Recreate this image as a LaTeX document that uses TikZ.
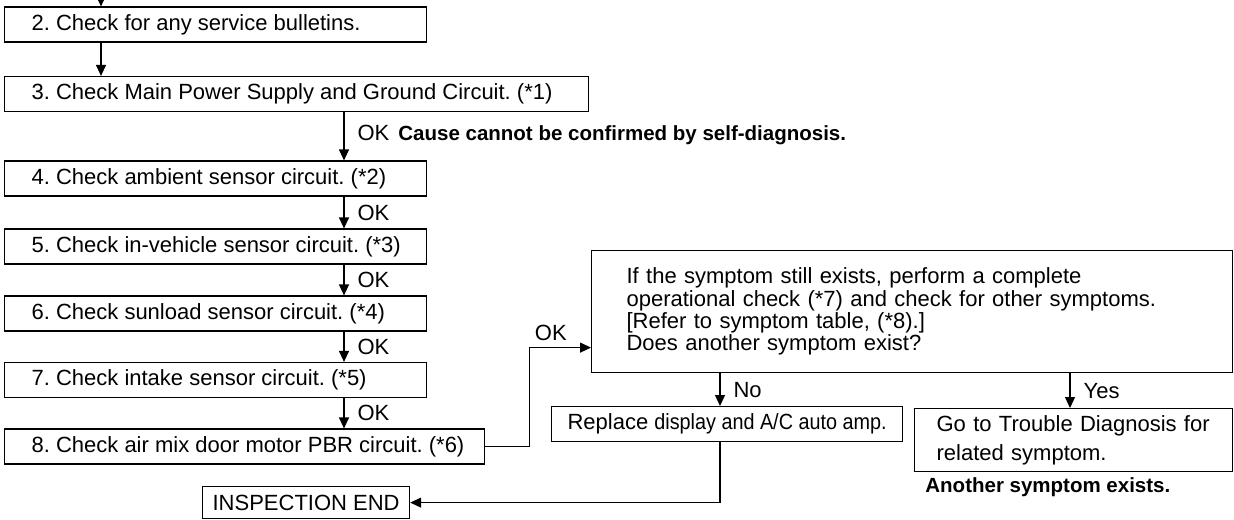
\documentclass[tikz,border=0pt]{standalone}
\usepackage{fontspec}
\setmainfont{Liberation Sans}
\newfontfamily\narrowsf{Liberation Sans}[FakeStretch=0.9]
\usetikzlibrary{arrows.meta}

\begin{document}
\frenchspacing
\begin{tikzpicture}[x=0.5pt,y=-0.5pt,
  box/.style={draw,line width=0.6pt,inner ysep=2pt,font=\fontsize{11}{11.2}\selectfont},
  chk/.style={box,anchor=west,minimum height=17.5pt,inner xsep=13.5pt,
    execute at begin node={\hbox to #1\bgroup},execute at end node={\hss\egroup}},
  lbl/.style={right,inner sep=0pt,xshift=6.5pt,font=\fontsize{11}{11.2}\selectfont},
  note/.style={anchor=west,inner sep=0pt,font=\bfseries\fontsize{10.25}{11.2}\selectfont},
  arr/.style={line width=0.6pt,-{Triangle[length=5.5pt,width=5pt]}}]
\useasboundingbox (0,0) rectangle (1234,519);
\coordinate (colA) at (101,0);
\coordinate (colB) at (344,0);
\coordinate (colC) at (720,0);
\coordinate (colD) at (1070,0);
\node[chk=184pt] (b2) at (4,24.5) {2. Check for any service bulletins.};
\node[chk=265pt] (b3) at (4,94) {3. Check Main Power Supply and Ground Circuit. (*1)};
\node[chk=184pt] (b4) at (4,178.5) {4. Check ambient sensor circuit. (*2)};
\node[chk=184pt] (b5) at (4,246.5) {5. Check in-vehicle sensor circuit. (*3)};
\node[chk=184pt] (b6) at (4,313.5) {6. Check sunload sensor circuit. (*4)};
\node[chk=184pt] (b7) at (4,380) {7. Check intake sensor circuit. (*5)};
\node[chk=213pt] (b8) at (4,446.5) {8. Check air mix door motor PBR circuit. (*6)};
\node[box,anchor=north west,align=left,minimum height=61pt,inner xsep=17.5pt,text width=285.5pt] (big) at (591,250)
  {If the symptom still exists, perform a complete\\
   operational check (*7) and check for other symptoms.\\
   {[}Refer to symptom table, (*8).{]}\\
   Does another symptom exist?};
\node[box,anchor=north west,minimum width=175.5pt,minimum height=17.5pt] (rep) at (551,406)
  {Replace {\narrowsf display and A/C auto amp.}};
\node[box,anchor=north west,align=left,minimum height=31.5pt,inner xsep=11pt,text width=137pt,
  font=\fontsize{11}{14.3}\selectfont] (go) at (914,408)
  {Go to Trouble Diagnosis for\\related symptom.};
\node[box,anchor=north west,minimum width=103.5pt,minimum height=16pt] (fin) at (202,486)
  {INSPECTION END};
\node[note] (cause) at (398,135) {Cause cannot be confirmed by self-diagnosis.};
\node[note] (other) at (925,487) {Another symptom exists.};
\draw[arr] (colA) -- (colA |- b2.north);
\draw[arr] (colA |- b2.south) -- (colA |- b3.north);
\draw[arr] (colB |- b3.south) -- node[lbl,pos=0.43] {OK} (colB |- b4.north);
\draw[arr] (colB |- b4.south) -- node[lbl] {OK} (colB |- b5.north);
\draw[arr] (colB |- b5.south) -- node[lbl] {OK} (colB |- b6.north);
\draw[arr] (colB |- b6.south) -- node[lbl] {OK} (colB |- b7.north);
\draw[arr] (colB |- b7.south) -- node[lbl] {OK} (colB |- b8.north);
\draw[arr] (b8.east) -- ++(44,0) |- ([yshift=-18pt]big.west)
  node[pos=0.675,above,inner sep=3pt,font=\fontsize{11}{11.2}\selectfont] {OK};
\draw[arr] (colC |- big.south) -- node[lbl] {No} (colC |- rep.north);
\draw[arr] (colD |- big.south) -- node[lbl] {Yes} (colD |- go.north);
\draw[arr] (colC |- rep.south) |- (fin.east);
\end{tikzpicture}
\end{document}
